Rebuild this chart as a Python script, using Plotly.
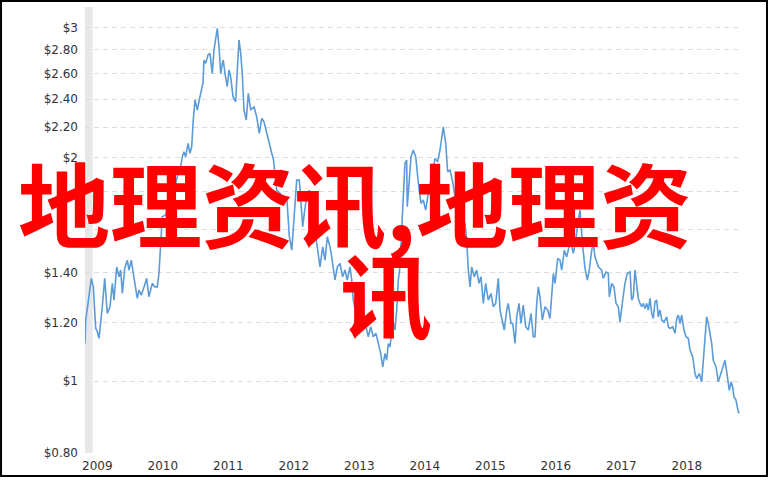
import plotly.graph_objects as go

# ---- data (decimal year, price in $) ----
years = [
    2008.812, 2008.823, 2008.858, 2008.908, 2008.939, 2008.975, 2009.000, 2009.026, 2009.076, 2009.113,
    2009.152, 2009.194, 2009.229, 2009.255, 2009.296, 2009.331, 2009.357, 2009.382, 2009.418, 2009.458,
    2009.484, 2009.519, 2009.549, 2009.586, 2009.610, 2009.636, 2009.671, 2009.713, 2009.753, 2009.788,
    2009.839, 2009.876, 2009.915, 2009.941, 2009.967, 2009.992, 2010.044, 2010.094, 2010.130, 2010.171,
    2010.221, 2010.273, 2010.297, 2010.323, 2010.349, 2010.385, 2010.415, 2010.441, 2010.465, 2010.491,
    2010.526, 2010.552, 2010.578, 2010.613, 2010.629, 2010.655, 2010.690, 2010.720, 2010.755, 2010.781,
    2010.807, 2010.832, 2010.858, 2010.884, 2010.908, 2010.923, 2010.949, 2010.984, 2011.010, 2011.036,
    2011.071, 2011.112, 2011.137, 2011.163, 2011.189, 2011.213, 2011.239, 2011.274, 2011.305, 2011.342,
    2011.392, 2011.433, 2011.473, 2011.510, 2011.545, 2011.586, 2011.626, 2011.663, 2011.687, 2011.713,
    2011.739, 2011.790, 2011.840, 2011.892, 2011.932, 2011.969, 2011.993, 2012.019, 2012.044, 2012.084,
    2012.105, 2012.136, 2012.160, 2012.197, 2012.237, 2012.273, 2012.323, 2012.374, 2012.400, 2012.441,
    2012.476, 2012.511, 2012.552, 2012.578, 2012.629, 2012.664, 2012.705, 2012.746, 2012.781, 2012.816,
    2012.858, 2012.884, 2012.908, 2012.949, 2012.984, 2013.025, 2013.060, 2013.102, 2013.137, 2013.174,
    2013.213, 2013.254, 2013.290, 2013.326, 2013.357, 2013.392, 2013.418, 2013.443, 2013.469, 2013.510,
    2013.545, 2013.571, 2013.595, 2013.621, 2013.647, 2013.672, 2013.697, 2013.723, 2013.732, 2013.763,
    2013.789, 2013.824, 2013.861, 2013.900, 2013.942, 2013.977, 2014.013, 2014.053, 2014.105, 2014.155,
    2014.196, 2014.232, 2014.282, 2014.319, 2014.349, 2014.384, 2014.420, 2014.461, 2014.511, 2014.563,
    2014.614, 2014.639, 2014.664, 2014.690, 2014.716, 2014.755, 2014.792, 2014.827, 2014.857, 2014.893,
    2014.929, 2014.969, 2015.010, 2015.045, 2015.082, 2015.122, 2015.148, 2015.183, 2015.213, 2015.250,
    2015.274, 2015.316, 2015.342, 2015.377, 2015.403, 2015.438, 2015.468, 2015.503, 2015.540, 2015.580,
    2015.621, 2015.656, 2015.682, 2015.708, 2015.733, 2015.759, 2015.794, 2015.835, 2015.876, 2015.911,
    2015.937, 2015.962, 2015.988, 2016.029, 2016.064, 2016.090, 2016.130, 2016.166, 2016.201, 2016.232,
    2016.267, 2016.304, 2016.343, 2016.369, 2016.411, 2016.446, 2016.481, 2016.511, 2016.548, 2016.572,
    2016.598, 2016.649, 2016.701, 2016.725, 2016.766, 2016.801, 2016.817, 2016.853, 2016.888, 2016.919,
    2016.954, 2016.980, 2017.021, 2017.056, 2017.091, 2017.133, 2017.158, 2017.183, 2017.209, 2017.235,
    2017.259, 2017.285, 2017.311, 2017.336, 2017.362, 2017.387, 2017.412, 2017.438, 2017.464, 2017.488,
    2017.514, 2017.540, 2017.565, 2017.591, 2017.617, 2017.652, 2017.693, 2017.717, 2017.743, 2017.784,
    2017.820, 2017.846, 2017.870, 2017.896, 2017.922, 2017.957, 2017.988, 2018.023, 2018.049, 2018.090,
    2018.125, 2018.151, 2018.191, 2018.227, 2018.252, 2018.278, 2018.303, 2018.328, 2018.354, 2018.380,
    2018.404, 2018.446, 2018.481, 2018.517, 2018.548, 2018.583, 2018.609, 2018.633, 2018.649, 2018.675,
    2018.700, 2018.720, 2018.751, 2018.786, 2018.801,
]

prices = [
    1.124, 1.209, 1.273, 1.376, 1.340, 1.179, 1.166, 1.142, 1.260, 1.376,
    1.234, 1.260, 1.355, 1.286, 1.426, 1.383, 1.412, 1.313, 1.419, 1.456,
    1.412, 1.456, 1.397, 1.340, 1.293, 1.327, 1.306, 1.340, 1.376, 1.299,
    1.355, 1.340, 1.340, 1.397, 1.566, 1.666, 1.675, 1.755, 1.684, 1.810,
    1.886, 1.946, 2.007, 2.039, 2.007, 2.093, 2.029, 2.071, 2.250, 2.394,
    2.321, 2.394, 2.444, 2.522, 2.711, 2.683, 2.753, 2.768, 2.601, 2.796,
    2.885, 2.991, 2.825, 2.601, 2.683, 2.711, 2.601, 2.495, 2.628, 2.574,
    2.419, 2.381, 2.628, 2.885, 2.768, 2.601, 2.321, 2.250, 2.444, 2.321,
    2.345, 2.273, 2.159, 2.262, 2.238, 2.159, 2.093, 2.029, 1.997, 1.886,
    1.810, 1.793, 1.755, 1.773, 1.566, 1.502, 1.615, 1.737, 1.867, 1.867,
    1.737, 1.615, 1.684, 1.773, 1.810, 1.719, 1.599, 1.502, 1.426, 1.518,
    1.456, 1.566, 1.518, 1.471, 1.369, 1.426, 1.441, 1.383, 1.412, 1.369,
    1.426, 1.369, 1.286, 1.234, 1.260, 1.209, 1.247, 1.184, 1.148, 1.184,
    1.148, 1.160, 1.124, 1.090, 1.045, 1.090, 1.067, 1.124, 1.112, 1.209,
    1.172, 1.247, 1.369, 1.426, 1.599, 1.773, 1.967, 1.987, 1.719, 1.867,
    2.007, 2.050, 2.007, 1.857, 1.737, 1.755, 1.701, 1.792, 1.886, 1.997,
    1.976, 2.050, 2.203, 2.093, 1.916, 1.926, 1.867, 1.773, 1.719, 1.666,
    1.632, 1.550, 1.412, 1.340, 1.426, 1.383, 1.412, 1.355, 1.383, 1.273,
    1.355, 1.286, 1.313, 1.260, 1.273, 1.376, 1.247, 1.209, 1.172, 1.247,
    1.273, 1.196, 1.196, 1.124, 1.221, 1.273, 1.196, 1.266, 1.184, 1.172,
    1.234, 1.148, 1.148, 1.273, 1.340, 1.299, 1.209, 1.260, 1.247, 1.215,
    1.313, 1.397, 1.355, 1.464, 1.456, 1.412, 1.502, 1.471, 1.518, 1.534,
    1.487, 1.550, 1.649, 1.701, 1.518, 1.419, 1.369, 1.412, 1.502, 1.534,
    1.471, 1.426, 1.412, 1.376, 1.404, 1.397, 1.299, 1.355, 1.340, 1.273,
    1.260, 1.202, 1.286, 1.355, 1.397, 1.404, 1.286, 1.299, 1.412, 1.340,
    1.293, 1.273, 1.260, 1.273, 1.253, 1.273, 1.247, 1.293, 1.234, 1.215,
    1.279, 1.286, 1.221, 1.247, 1.209, 1.202, 1.221, 1.184, 1.178, 1.184,
    1.160, 1.215, 1.228, 1.196, 1.228, 1.172, 1.148, 1.142, 1.101, 1.078,
    1.024, 1.008, 1.024, 0.998, 1.078, 1.160, 1.221, 1.196, 1.160, 1.124,
    1.067, 1.045, 0.998, 1.024, 1.045, 1.067, 1.029, 0.993, 0.972, 0.998,
    0.982, 0.952, 0.943, 0.909, 0.905,
]

year_ticks = [2009, 2010, 2011, 2012, 2013, 2014, 2015, 2016, 2017, 2018]
year_labels = ["2009", "2010", "2011", "2012", "2013", "2014", "2015", "2016", "2017", "2018"]
price_ticks = [0.8, 1.0, 1.2, 1.4, 1.6, 1.8, 2.0, 2.2, 2.4, 2.6, 2.8, 3.0]
# $1.60 and $1.80 are hidden behind the red overlay text in the reference
price_labels = ["$0.80", "$1", "$1.20", "$1.40", "", "", "$2", "$2.20",
                "$2.40", "$2.60", "$2.80", "$3"]
recession = [2008.812, 2008.930]
overlay_line1 = "地理资讯,地理资"
overlay_line2 = "讯"

fig = go.Figure()
fig.add_trace(go.Scatter(
    x=years, y=prices, mode="lines",
    line=dict(color="#5b9bd8", width=1.6),
    hoverinfo="skip", showlegend=False,
))

fig.add_shape(type="rect", xref="x", yref="paper",
              x0=recession[0], x1=recession[1], y0=0, y1=1,
              fillcolor="#e8e8e8", line=dict(width=0), layer="below")

# outer black frame
fig.add_shape(type="rect", xref="paper", yref="paper",
              x0=-0.1282, x1=1.0412, y0=-0.0516, y1=1.0135,
              line=dict(color="black", width=2), fillcolor="rgba(0,0,0,0)")

fig.add_annotation(text="<b>" + overlay_line1 + "</b>", xref="paper", yref="paper",
                   x=0.4122, y=0.566, xanchor="center", yanchor="middle",
                   showarrow=False,
                   font=dict(family="Noto Sans CJK SC", size=92, color="#ff0000"))
fig.add_annotation(text="<b>" + overlay_line2 + "</b>", xref="paper", yref="paper",
                   x=0.4595, y=0.361, xanchor="center", yanchor="middle",
                   showarrow=False,
                   font=dict(family="Noto Sans CJK SC", size=92, color="#ff0000"))

tick_font = dict(family="DejaVu Sans", size=12, color="#333333")

fig.update_layout(
    width=771, height=480,
    margin=dict(l=85, r=31, t=7, b=27),
    paper_bgcolor="white", plot_bgcolor="white",
    xaxis=dict(range=[2008.812, 2018.812], tickvals=year_ticks, ticktext=year_labels,
               showgrid=False, zeroline=False, showline=False, ticks="",
               tickfont=tick_font, ticklabelstandoff=4),
    yaxis=dict(type="log", range=[-0.09691, 0.5046], tickvals=price_ticks,
               ticktext=price_labels, showgrid=True, gridcolor="#dddddd",
               griddash="5px,4px", gridwidth=1, zeroline=False, showline=False,
               ticks="", tickfont=tick_font, ticklabelstandoff=6),
)

fig.write_html("out.html", config={"displayModeBar": False},
               post_script="document.body.style.margin='0';document.body.style.overflow='hidden';")
